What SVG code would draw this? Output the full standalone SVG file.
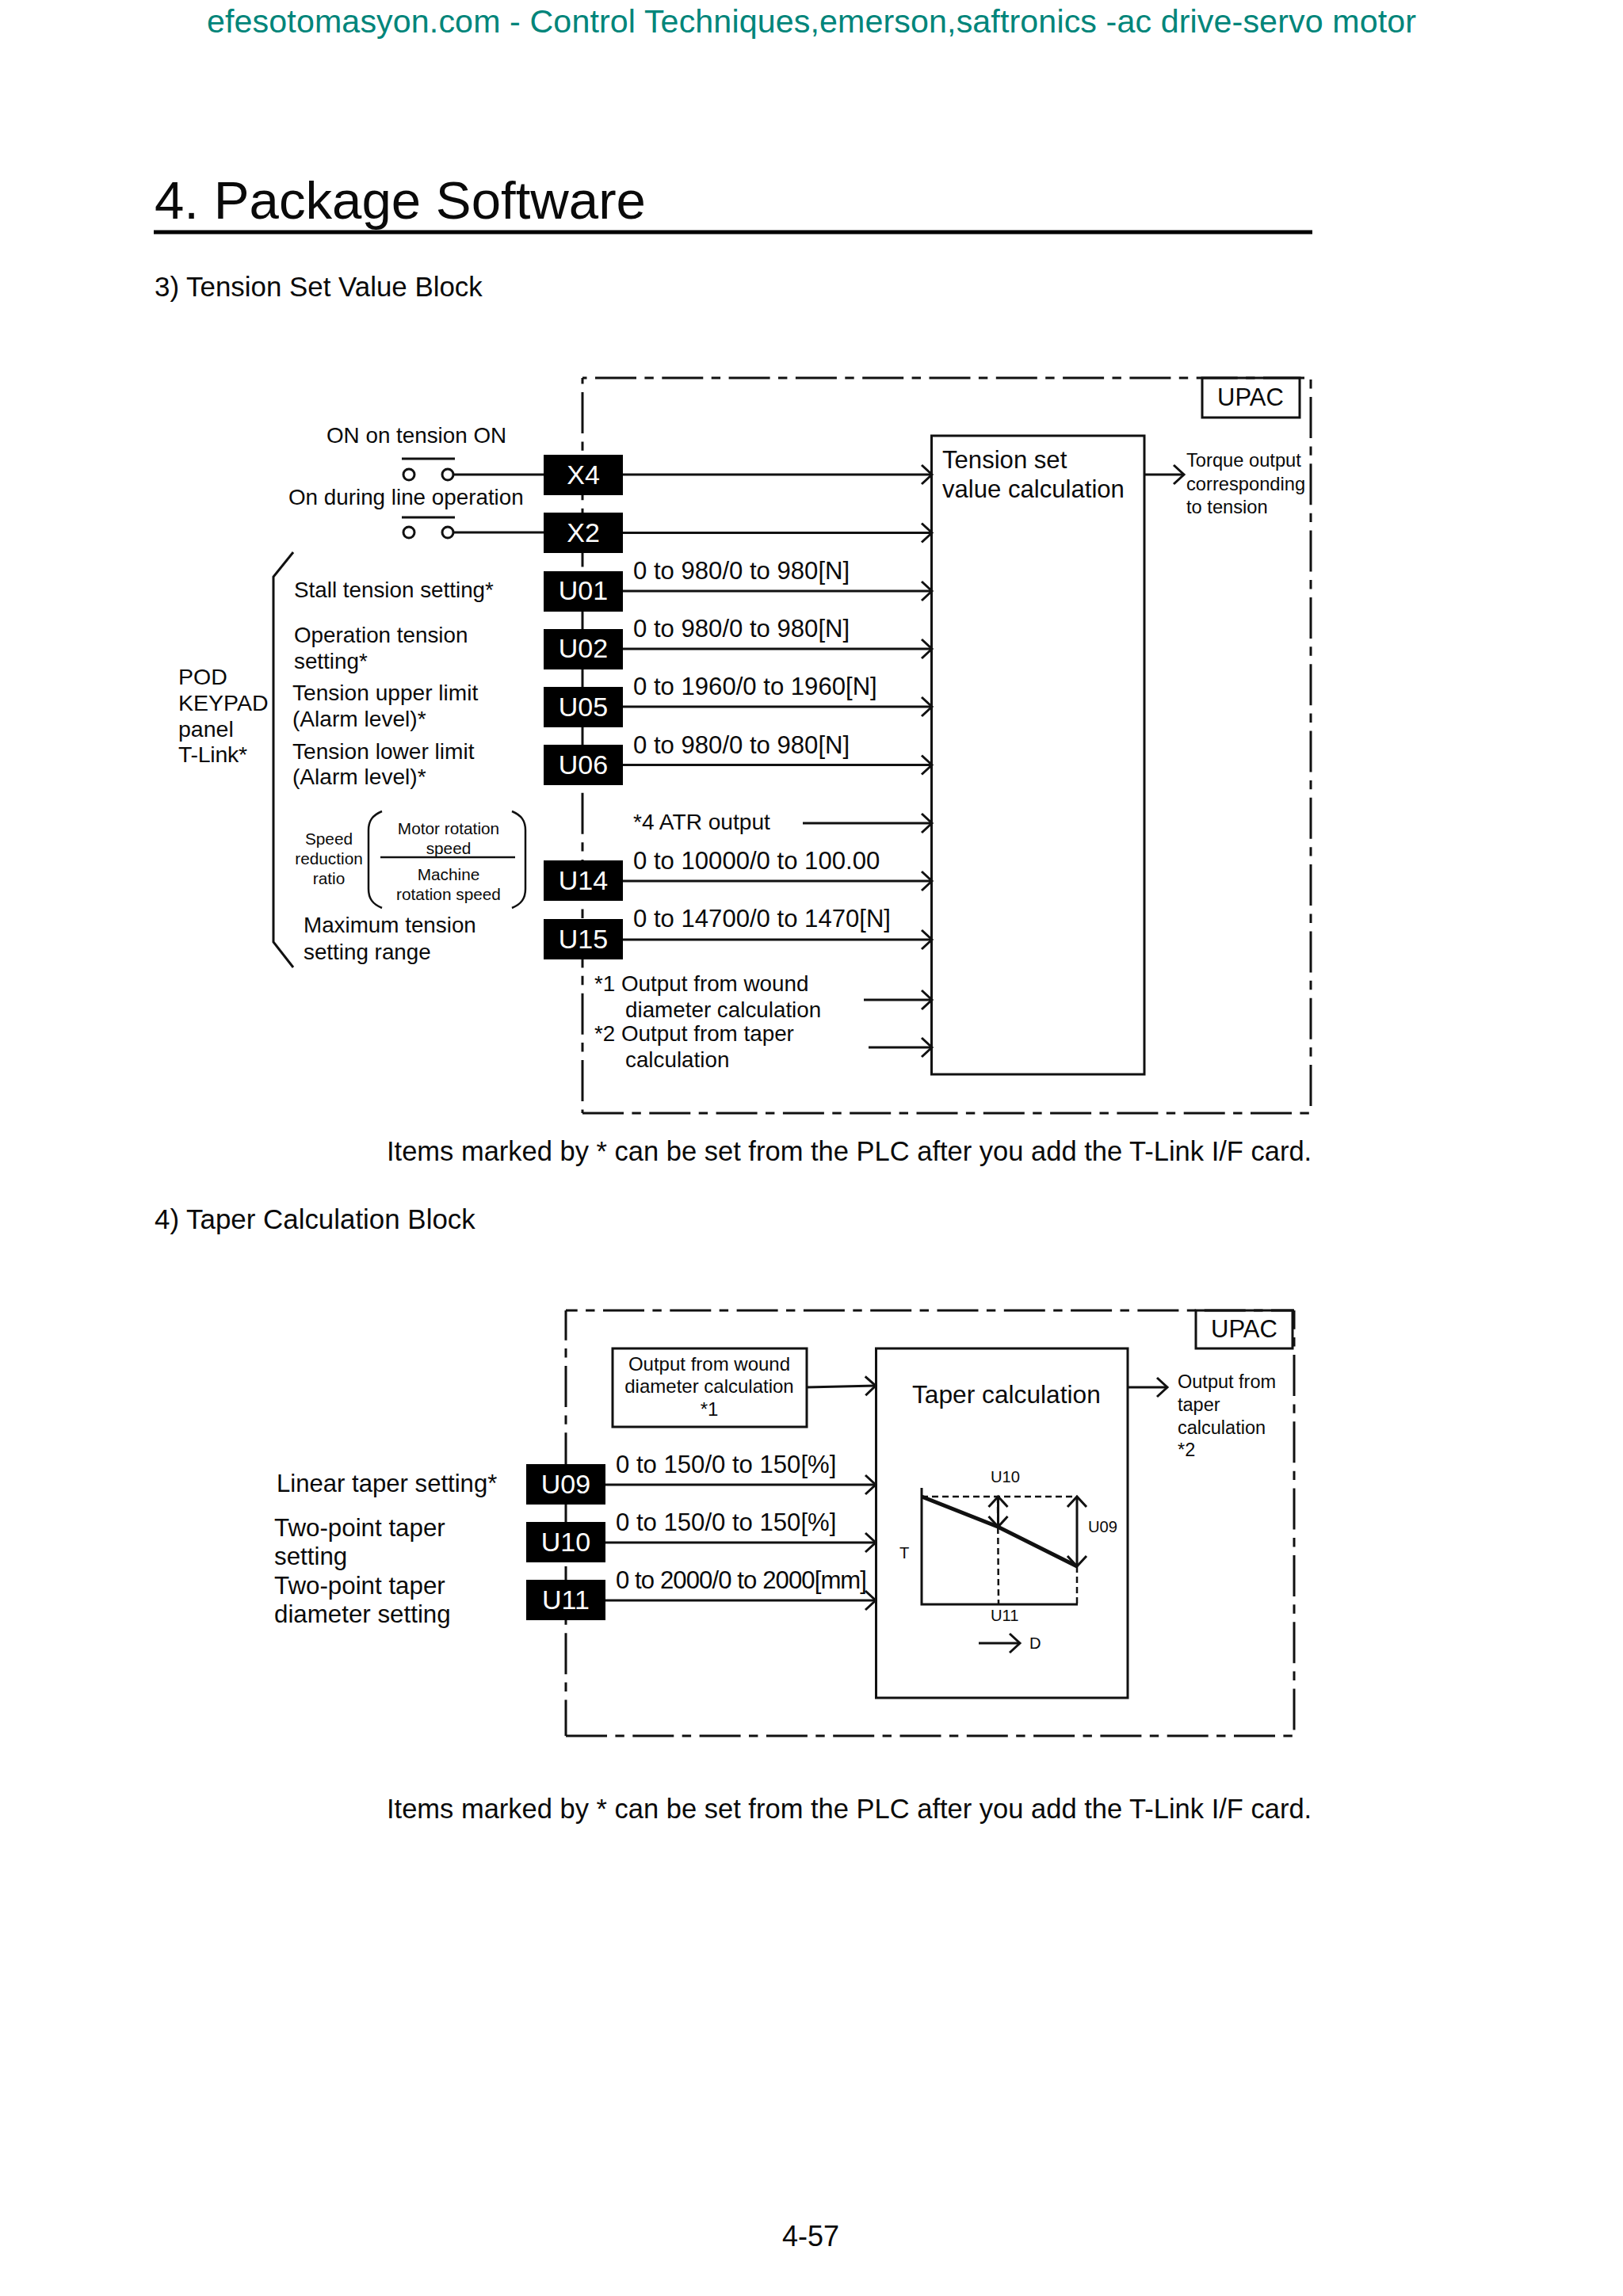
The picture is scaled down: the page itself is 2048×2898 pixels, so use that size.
<svg xmlns="http://www.w3.org/2000/svg" width="2048" height="2898" viewBox="0 0 2048 2898">
<style>
text{font-family:"Liberation Sans",Arial,sans-serif;fill:#0a0a0a}
.t36{font-size:36px}.t35{font-size:34.9px}.t31{font-size:31.1px}.t313{font-size:31.3px}.t275{font-size:27.8px}.t28{font-size:28.1px}.t285{font-size:28.5px}.t24{font-size:24px}.t23{font-size:23.5px}.t22{font-size:23.7px}.t205{font-size:20.8px}.t20{font-size:20.2px}
.m{text-anchor:middle}
.w{fill:#fff;font-size:34px;text-anchor:middle}
.b{fill:#000}
.box{fill:none;stroke:#111;stroke-width:3}
.ln{fill:none;stroke:#111;stroke-width:3}
.thin{fill:none;stroke:#111;stroke-width:2.5}
.dash{fill:none;stroke:#111;stroke-width:3;stroke-dasharray:52 10.4 11.4 10.5}
.sd{fill:none;stroke:#111;stroke-width:2.5;stroke-dasharray:8 5}
.arr{fill:none;stroke:#111;stroke-width:3;marker-end:url(#ch)}
</style>
<defs>
<marker id="ch" markerUnits="userSpaceOnUse" markerWidth="30" markerHeight="34" refX="16" refY="17" orient="auto-start-reverse" overflow="visible">
<path d="M3,5 L16,17 L3,29" fill="none" stroke="#111" stroke-width="3"/>
</marker>
</defs>
<rect width="2048" height="2898" fill="#fff"/>

<g id="page-text">
<text x="261" y="41" font-size="41.2" style="fill:#00857a" textLength="1526" lengthAdjust="spacing">efesotomasyon.com - Control Techniques,emerson,saftronics -ac drive-servo motor</text>
<text x="195" y="276" font-size="67.2">4. Package Software</text>
<text x="195" y="374" class="t35">3) Tension Set Value Block</text>
<text x="488" y="1465" font-size="34.5">Items marked by * can be set from the PLC after you add the T-Link I/F card.</text>
<text x="195" y="1551" class="t35">4) Taper Calculation Block</text>
<text x="488" y="2295" font-size="34.5">Items marked by * can be set from the PLC after you add the T-Link I/F card.</text>
<text x="1023" y="2835" class="t36 m">4-57</text>
</g>
<rect id="title-rule" x="194" y="290.5" width="1462" height="5" fill="#000"/>

<g id="frame-1">
<path class="dash" style="stroke-dashoffset:68.3" d="M735,477H1646"/>
<path class="dash" style="stroke-dashoffset:66.3" d="M735,477V1405"/>
<path class="dash" style="stroke-dashoffset:60.3" d="M1654,477V1405"/>
<path class="dash" d="M735,1405H1654"/>
</g>
<g id="frame-2">
<path class="dash" style="stroke-dashoffset:37.3" d="M714,1654H1633"/>
<path class="dash" style="stroke-dashoffset:14.3" d="M714,1654V2191"/>
<path class="dash" style="stroke-dashoffset:28.3" d="M1633,1654V2191"/>
<path class="dash" d="M714,2191H1633"/>
</g>

<g id="connectors">
<path class="ln" d="M572,599H686M572,672H686"/>
<path class="arr" d="M786,599H1176"/>
<path class="arr" d="M786,672.500H1176"/>
<path class="arr" d="M786,746H1176"/>
<path class="arr" d="M786,819H1176"/>
<path class="arr" d="M786,892H1176"/>
<path class="arr" d="M786,965.500H1176"/>
<path class="arr" d="M1013,1039H1176"/>
<path class="arr" d="M786,1112H1176"/>
<path class="arr" d="M786,1186H1176"/>
<path class="arr" d="M1090,1262H1176"/>
<path class="arr" d="M1096,1322H1176"/>
<path class="arr" d="M1444,599H1494"/>
<path class="arr" d="M1018,1751L1105,1749"/>
<path class="arr" d="M764,1874H1105"/>
<path class="arr" d="M764,1947H1105"/>
<path class="arr" d="M764,2020H1105"/>
<path class="arr" d="M1423,1751H1473"/>
</g>

<g id="contact-x4"><path class="ln" d="M507,579H574"/><circle cx="516" cy="599" r="7" class="box"/><circle cx="565" cy="599" r="7" class="box"/></g>
<g id="contact-x2"><path class="ln" d="M507,653H574"/><circle cx="516" cy="672" r="7" class="box"/><circle cx="565" cy="672" r="7" class="box"/></g>

<g id="x4"><rect class="b" x="686" y="574" width="100" height="51"/><text class="w" x="736" y="611">X4</text></g>
<g id="x2"><rect class="b" x="686" y="647" width="100" height="51"/><text class="w" x="736" y="684">X2</text></g>
<g id="u01"><rect class="b" x="686" y="721" width="100" height="51"/><text class="w" x="736" y="757">U01</text></g>
<g id="u02"><rect class="b" x="686" y="794" width="100" height="51"/><text class="w" x="736" y="830">U02</text></g>
<g id="u05"><rect class="b" x="686" y="867" width="100" height="51"/><text class="w" x="736" y="904">U05</text></g>
<g id="u06"><rect class="b" x="686" y="940" width="100" height="51"/><text class="w" x="736" y="977">U06</text></g>
<g id="u14"><rect class="b" x="686" y="1086" width="100" height="51"/><text class="w" x="736" y="1123">U14</text></g>
<g id="u15"><rect class="b" x="686" y="1160" width="100" height="51"/><text class="w" x="736" y="1197">U15</text></g>

<g id="upac-1"><rect class="box" x="1517" y="477" width="123" height="50"/><text class="m" x="1578" y="512" font-size="31">UPAC</text></g>
<g id="tension-calc"><rect class="box" x="1175.5" y="550" width="268.500" height="806"/><text class="t31" x="1189" y="591">Tension set</text><text class="t31" x="1189" y="628">value calculation</text></g>

<g id="labels-1">
<text class="t275" x="412" y="559">ON on tension ON</text>
<text class="t275" x="364" y="637">On during line operation</text>
<text class="t275" x="371" y="754">Stall tension setting*</text>
<text class="t275" x="371" y="811">Operation tension</text>
<text class="t275" x="371" y="844">setting*</text>
<text class="t28" x="369" y="884">Tension upper limit</text>
<text class="t28" x="369" y="917">(Alarm level)*</text>
<text class="t28" x="369" y="958">Tension lower limit</text>
<text class="t28" x="369" y="990">(Alarm level)*</text>
<text class="t285" x="225" y="864">POD</text>
<text class="t285" x="225" y="897">KEYPAD</text>
<text class="t285" x="225" y="930">panel</text>
<text class="t285" x="225" y="962" textLength="87">T-Link*</text>
<text class="t205 m" x="415" y="1066">Speed</text>
<text class="t205 m" x="415" y="1091">reduction</text>
<text class="t205 m" x="415" y="1116">ratio</text>
<text class="t205 m" x="566" y="1053">Motor rotation</text>
<text class="t205 m" x="566" y="1078">speed</text>
<text class="t205 m" x="566" y="1111">Machine</text>
<text class="t205 m" x="566" y="1136">rotation speed</text>
<text class="t275" x="383" y="1177">Maximum tension</text>
<text class="t275" x="383" y="1211">setting range</text>
<text class="t31" x="799" y="731">0 to 980/0 to 980[N]</text>
<text class="t31" x="799" y="804">0 to 980/0 to 980[N]</text>
<text class="t31" x="799" y="877">0 to 1960/0 to 1960[N]</text>
<text class="t31" x="799" y="951">0 to 980/0 to 980[N]</text>
<text class="t28" x="799" y="1047">*4 ATR output</text>
<text class="t31" x="799" y="1097">0 to 10000/0 to 100.00</text>
<text class="t31" x="799" y="1170">0 to 14700/0 to 1470[N]</text>
<text class="t275" x="750" y="1251">*1 Output from wound</text>
<text class="t275" x="789" y="1284">diameter calculation</text>
<text class="t275" x="750" y="1314">*2 Output from taper</text>
<text class="t275" x="789" y="1347">calculation</text>
<text class="t22" x="1497" y="589">Torque output</text>
<text class="t22" x="1497" y="619">corresponding</text>
<text class="t22" x="1497" y="648">to tension</text>
</g>
<g id="brackets">
<path class="ln" d="M370,697L345,728V1189L370,1221"/>
<path class="thin" d="M482,1024C470,1029 465,1036 465,1048V1122C465,1134 470,1141 482,1146"/>
<path class="thin" d="M646,1024C658,1029 663,1036 663,1048V1122C663,1134 658,1141 646,1146"/>
<path class="thin" d="M480,1082H650"/>
</g>

<g id="u09"><rect class="b" x="664" y="1848" width="100" height="51"/><text class="w" x="714" y="1885">U09</text></g>
<g id="u10"><rect class="b" x="664" y="1921" width="100" height="51"/><text class="w" x="714" y="1958">U10</text></g>
<g id="u11"><rect class="b" x="664" y="1994" width="100" height="51"/><text class="w" x="714" y="2031">U11</text></g>
<g id="upac-2"><rect class="box" x="1509" y="1654" width="122" height="48"/><text class="m" x="1570" y="1688" font-size="31">UPAC</text></g>
<g id="wound-box"><rect class="box" x="773" y="1702" width="245" height="99"/><text class="t24 m" x="895" y="1730">Output from wound</text><text class="t24 m" x="895" y="1758">diameter calculation</text><text class="t24 m" x="895" y="1787">*1</text></g>
<g id="taper-calc"><rect class="box" x="1105.5" y="1702" width="317.500" height="441"/><text x="1151" y="1771" font-size="31.7">Taper calculation</text>
<path class="sd" d="M1163,1889H1359M1259,1889L1260,2024M1359,1977V2024"/>
<path class="ln" d="M1163,1878V2025H1360"/>
<path class="ln" style="stroke-width:5" d="M1163,1889L1259,1927L1359,1977"/>
<path class="arr" style="marker-start:url(#ch)" d="M1259.5,1889V1927"/>
<path class="arr" style="marker-start:url(#ch)" d="M1359,1889V1977"/>
<path class="arr" d="M1235,2074H1287"/>
<text class="t20" x="1250" y="1871">U10</text>
<text class="t20" x="1373" y="1934">U09</text>
<text class="t20" x="1135" y="1967">T</text>
<text class="t20" x="1250" y="2046">U11</text>
<text class="t20" x="1299" y="2081">D</text>
</g>
<g id="labels-2">
<text class="t31" x="349" y="1883">Linear taper setting*</text>
<text class="t313" x="346" y="1939">Two-point taper</text>
<text class="t313" x="346" y="1975">setting</text>
<text class="t313" x="346" y="2012">Two-point taper</text>
<text class="t313" x="346" y="2048">diameter setting</text>
<text class="t31" x="777" y="1859">0 to 150/0 to 150[%]</text>
<text class="t31" x="777" y="1932">0 to 150/0 to 150[%]</text>
<text class="t31" x="777" y="2005" textLength="317" lengthAdjust="spacing">0 to 2000/0 to 2000[mm]</text>
<text class="t23" x="1486" y="1752">Output from</text>
<text class="t23" x="1486" y="1781">taper</text>
<text class="t23" x="1486" y="1810">calculation</text>
<text class="t23" x="1486" y="1838">*2</text>
</g>
</svg>
